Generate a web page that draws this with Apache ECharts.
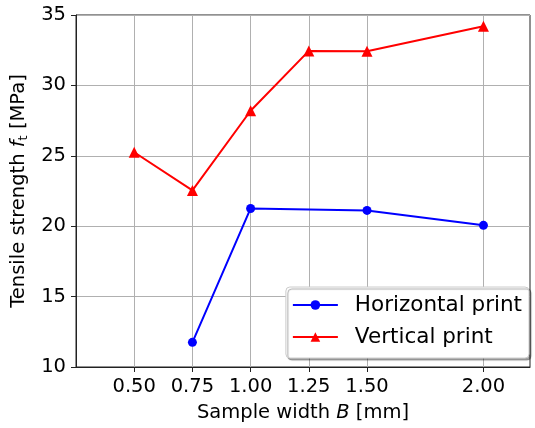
<!DOCTYPE html>
<html>
<head>
<meta charset="utf-8">
<script src="https://cdn.jsdelivr.net/npm/echarts@6/dist/echarts.min.js"></script>
<style>
html, body { margin: 0; padding: 0; background: #fff; }
#main { width: 535px; height: 428px; }
</style>
</head>
<body>
<div id="main"></div>
<script>
// Sample widths (mm) and tensile strengths (MPa)
var horizWidths = [0.75, 1.00, 1.50, 2.00];
var horizStrength = [11.75, 21.26, 21.12, 20.06];
var vertWidths = [0.50, 0.75, 1.00, 1.25, 1.50, 2.00];
var vertStrength = [25.25, 22.54, 28.20, 32.45, 32.43, 34.20];
var xTicks = [0.50, 0.75, 1.00, 1.25, 1.50, 2.00];

function pairs(xs, ys){
    var out = [];
    for (var i = 0; i < xs.length; i++){
        out.push([xs[i], ys[i]]);
    }
    return out;
}

var font = "DejaVu Sans";
var fs = 19.5;
var chart = echarts.init(document.getElementById("main"), null, {renderer: "canvas"});

var option = {
    animation: false,
    backgroundColor: "#fff",
    textStyle: {fontFamily: font},
    grid: {
        left: 76, right: 5, top: 15, bottom: 60,
        show: true, borderColor: "#222", borderWidth: 1, backgroundColor: "transparent"
    },
    xAxis: {
        type: "value",
        min: 0.25, max: 2.2,
        name: "Sample width {i|B} [mm]",
        nameLocation: "middle",
        nameGap: 36,
        nameTextStyle: {
            fontFamily: font, fontSize: fs, color: "#000",
            rich: {i: {fontFamily: font, fontSize: fs, fontStyle: "italic", color: "#000"}}
        },
        axisLine: {show: true, onZero: false, lineStyle: {color: "#222", width: 1}},
        axisTick: {show: true, length: 5, customValues: xTicks, lineStyle: {color: "#222"}},
        axisLabel: {
            customValues: xTicks,
            fontFamily: font, fontSize: fs, color: "#000", margin: 10,
            formatter: function(v){ return v.toFixed(2); }
        },
        splitLine: {show: true, lineStyle: {color: "#b0b0b0", width: 1}}
    },
    yAxis: {
        type: "value",
        min: 10, max: 35, interval: 5,
        name: "Tensile strength {i|f}{s|t} [MPa]",
        nameLocation: "middle",
        nameGap: 42,
        nameTextStyle: {
            fontFamily: font, fontSize: fs, color: "#000",
            rich: {
                i: {fontFamily: font, fontSize: fs, fontStyle: "italic", color: "#000"},
                s: {fontFamily: font, fontSize: 13, color: "#000", padding: [9, 0, 0, 0]}
            }
        },
        axisLine: {show: true, lineStyle: {color: "#222", width: 1}},
        axisTick: {show: true, length: 5, lineStyle: {color: "#222"}},
        axisLabel: {fontFamily: font, fontSize: fs, color: "#000", margin: 10},
        splitLine: {show: true, lineStyle: {color: "#b0b0b0", width: 1}}
    },
    legend: {
        orient: "vertical",
        right: 6, bottom: 70,
        padding: [6, 7, 9, 6],
        itemGap: 8,
        itemWidth: 45, itemHeight: 12,
        backgroundColor: "#fff",
        borderColor: "#cccccc", borderWidth: 1, borderRadius: 4,
        shadowColor: "rgba(0,0,0,0.35)", shadowOffsetX: 2, shadowOffsetY: 2, shadowBlur: 1,
        textStyle: {fontFamily: font, fontSize: 21.5, lineHeight: 24, color: "#000", padding: [0, 0, 0, 12]},
        data: ["Horizontal print", "Vertical print"]
    },
    series: [
        {
            name: "Horizontal print",
            type: "line",
            data: pairs(horizWidths, horizStrength),
            symbol: "circle", symbolSize: 9,
            itemStyle: {color: "#0000ff"},
            lineStyle: {color: "#0000ff", width: 2}
        },
        {
            name: "Vertical print",
            type: "line",
            data: pairs(vertWidths, vertStrength),
            symbol: "triangle", symbolSize: 11,
            itemStyle: {color: "#ff0000"},
            lineStyle: {color: "#ff0000", width: 2}
        }
    ]
};

chart.setOption(option);
</script>
</body>
</html>
